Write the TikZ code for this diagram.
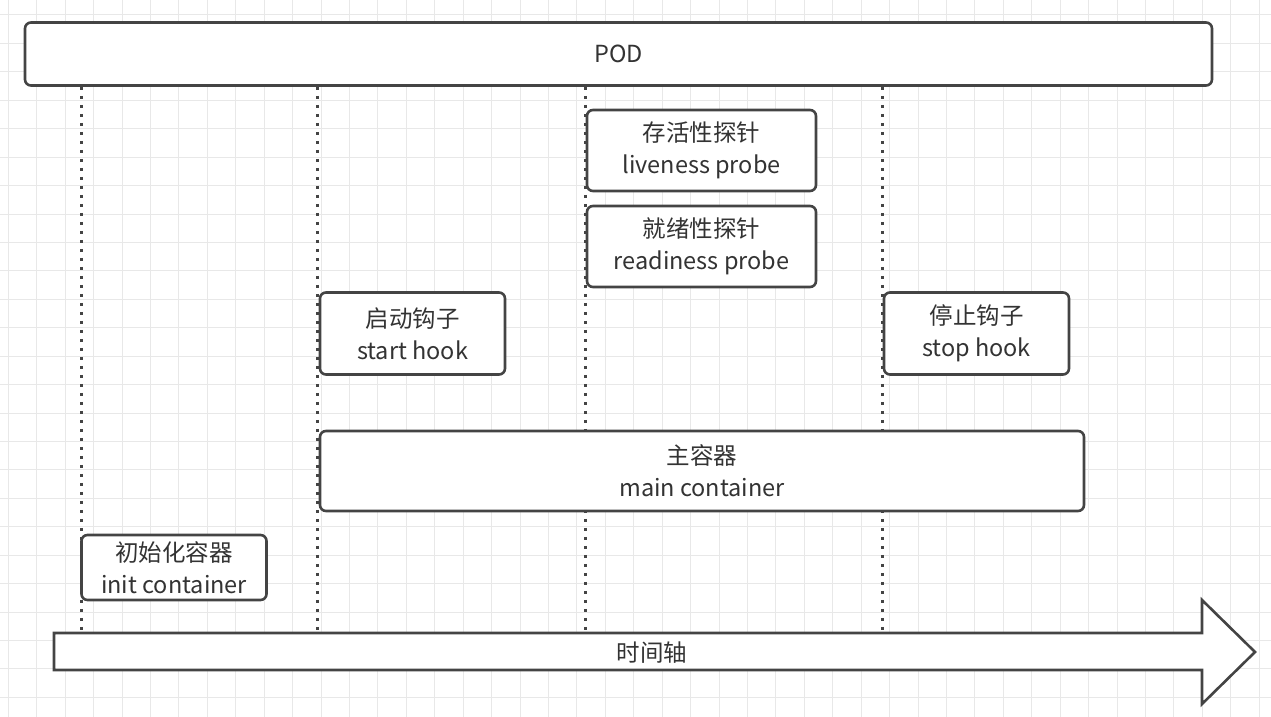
\documentclass[tikz,border=0pt]{standalone}
\usepackage{fontspec}
\setmainfont{Noto Sans CJK SC}
\usetikzlibrary{backgrounds}
\definecolor{boxline}{HTML}{444444}
\definecolor{boxtext}{HTML}{333333}
\definecolor{gridline}{HTML}{E8E8E8}
\tikzset{
  box/.style={draw=boxline, line width=2.6pt, rounded corners=6pt, fill=white,
    text=boxtext, align=center, inner sep=0pt, font=\fontsize{23.5}{32}\selectfont},
  guide/.style={draw=boxline, line width=3pt, dash pattern=on 3pt off 6pt},
}
\begin{document}
\begin{tikzpicture}[x=1pt,y=-1pt]
\useasboundingbox (0,0) rectangle (1271,717);
\node[box, minimum width=1187, minimum height=63] (pod) at (618.5,54) {POD};
\node[box, minimum width=229, minimum height=81] (live) at (701.5,150.5) {存活性探针\\liveness probe};
\node[box, minimum width=229, minimum height=81] (ready) at (701.5,246.5) {就绪性探针\\readiness probe};
\node[box, minimum width=185, minimum height=82] (start) at (412.5,333.5) {启动钩子\\start hook};
\node[box, minimum width=185, minimum height=82] (stop) at (976.5,333.5) {停止钩子\\stop hook};
\node[box, minimum width=764, minimum height=80] (main) at (702,471) {主容器\\main container};
\node[box, minimum width=185, minimum height=65] (init) at (174,567.5) {初始化容器\\init container};
\draw[draw=boxline, fill=white, line width=2.6pt, line join=miter]
  (54,633) -- (1202,633) -- (1202,600) -- (1255,652) -- (1202,704) -- (1202,670) -- (54,670) -- cycle;
\coordinate (axistop) at (54,633);
\node[text=boxtext, font=\fontsize{23.5}{32}\selectfont] (axis) at (652,653) {时间轴};
\begin{pgfonlayer}{background}
\fill[white] (0,0) rectangle (1271,717);
\foreach \i in {0,...,44}
  \draw[gridline, line width=1pt] ({8.3+28.43*\i},0) -- ++(0,717);
\foreach \j in {0,...,24}
  \draw[gridline, line width=1pt] (0,{15+28.43*\j}) -- ++(1271,0);
\draw[guide] ([xshift=1.5pt]init.west |- pod.south) -- ([xshift=1.5pt]init.west |- axistop);
\draw[guide] ([xshift=-1pt]start.west |- pod.south) -- ([xshift=-1pt]start.west |- axistop);
\draw[guide] (live.west |- pod.south) -- (live.west |- axistop);
\draw[guide] (stop.west |- pod.south) -- (stop.west |- axistop);
\end{pgfonlayer}
\end{tikzpicture}
\end{document}
